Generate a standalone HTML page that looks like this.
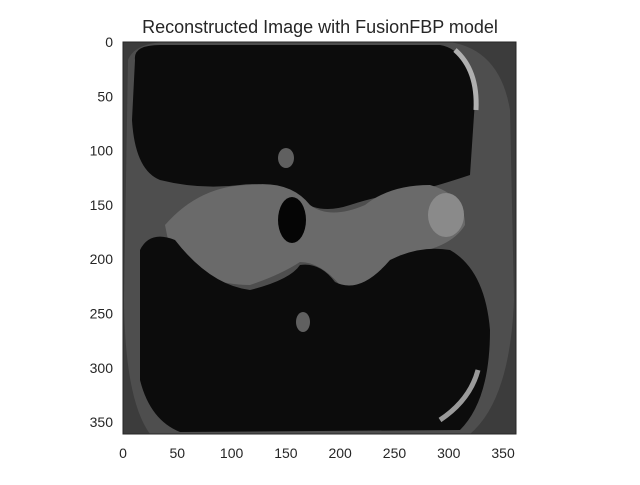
<!DOCTYPE html>
<html><head><meta charset="utf-8"><style>
body{margin:0;background:#fff;}
svg text{font-family:"Liberation Sans","DejaVu Sans",sans-serif;fill:#262626;}
</style></head><body>
<svg width="640" height="480" viewBox="0 0 640 480">
<text x="320" y="33" font-size="18" text-anchor="middle">Reconstructed Image with FusionFBP model</text>
<g>
<rect x="123" y="42" width="393" height="392" fill="#3c3c3c"/>
<path d="M128,60 Q135,42 170,42 L450,42 Q500,50 510,110 L514,300 Q510,400 470,434 L150,434 Q125,400 124,300 Z" fill="#4e4e4e"/>
<path d="M135,60 Q133,45 160,45 L440,45 Q470,50 475,100 L470,175 Q440,185 420,190 Q380,195 350,205 Q320,215 300,200 Q270,180 240,185 Q200,190 160,180 Q135,170 132,120 Z" fill="#0c0c0c"/>
<path d="M165,225 Q200,185 250,185 Q290,180 310,205 Q330,220 365,205 Q390,185 430,185 Q465,195 465,225 Q450,250 400,255 Q370,290 340,285 Q320,262 300,262 Q280,275 250,285 Q200,285 170,250 Z" fill="#6a6a6a"/>
<ellipse cx="446" cy="215" rx="18" ry="22" fill="#8a8a8a"/>
<ellipse cx="292" cy="220" rx="14" ry="23" fill="#050505"/>
<path d="M140,250 Q150,230 175,240 Q210,285 250,290 Q290,280 300,265 Q320,262 335,282 Q360,295 390,260 Q420,245 450,250 Q485,270 490,330 Q490,400 460,430 L180,432 Q150,420 140,380 Z" fill="#0c0c0c"/>
<path d="M455,50 Q478,70 476,110" stroke="#b0b0b0" stroke-width="5" fill="none"/>
<path d="M440,420 Q470,400 478,370" stroke="#9a9a9a" stroke-width="5" fill="none"/>
<ellipse cx="286" cy="158" rx="8" ry="10" fill="#606060"/>
<ellipse cx="303" cy="322" rx="7" ry="10" fill="#606060"/>
</g>
<rect x="123" y="42" width="393" height="392" fill="none" stroke="#262626" stroke-width="1"/>
<g id="xt" font-size="14"></g>
<g id="yt" font-size="14"></g>
<script>
const xTicks=[0,50,100,150,200,250,300,350];
const yTicks=[0,50,100,150,200,250,300,350];
const x0=123,y0=42,s=392/361;
const xg=document.getElementById('xt'),yg=document.getElementById('yt');
xTicks.forEach(v=>{const t=document.createElementNS('http://www.w3.org/2000/svg','text');
t.setAttribute('x',x0+v*s);t.setAttribute('y',458);t.setAttribute('text-anchor','middle');t.textContent=v;


xg.appendChild(t);});
yTicks.forEach(v=>{const t=document.createElementNS('http://www.w3.org/2000/svg','text');
t.setAttribute('x',113);t.setAttribute('y',y0+v*s+5);t.setAttribute('text-anchor','end');t.textContent=v;


yg.appendChild(t);});
</script>
</svg>
</body></html>
